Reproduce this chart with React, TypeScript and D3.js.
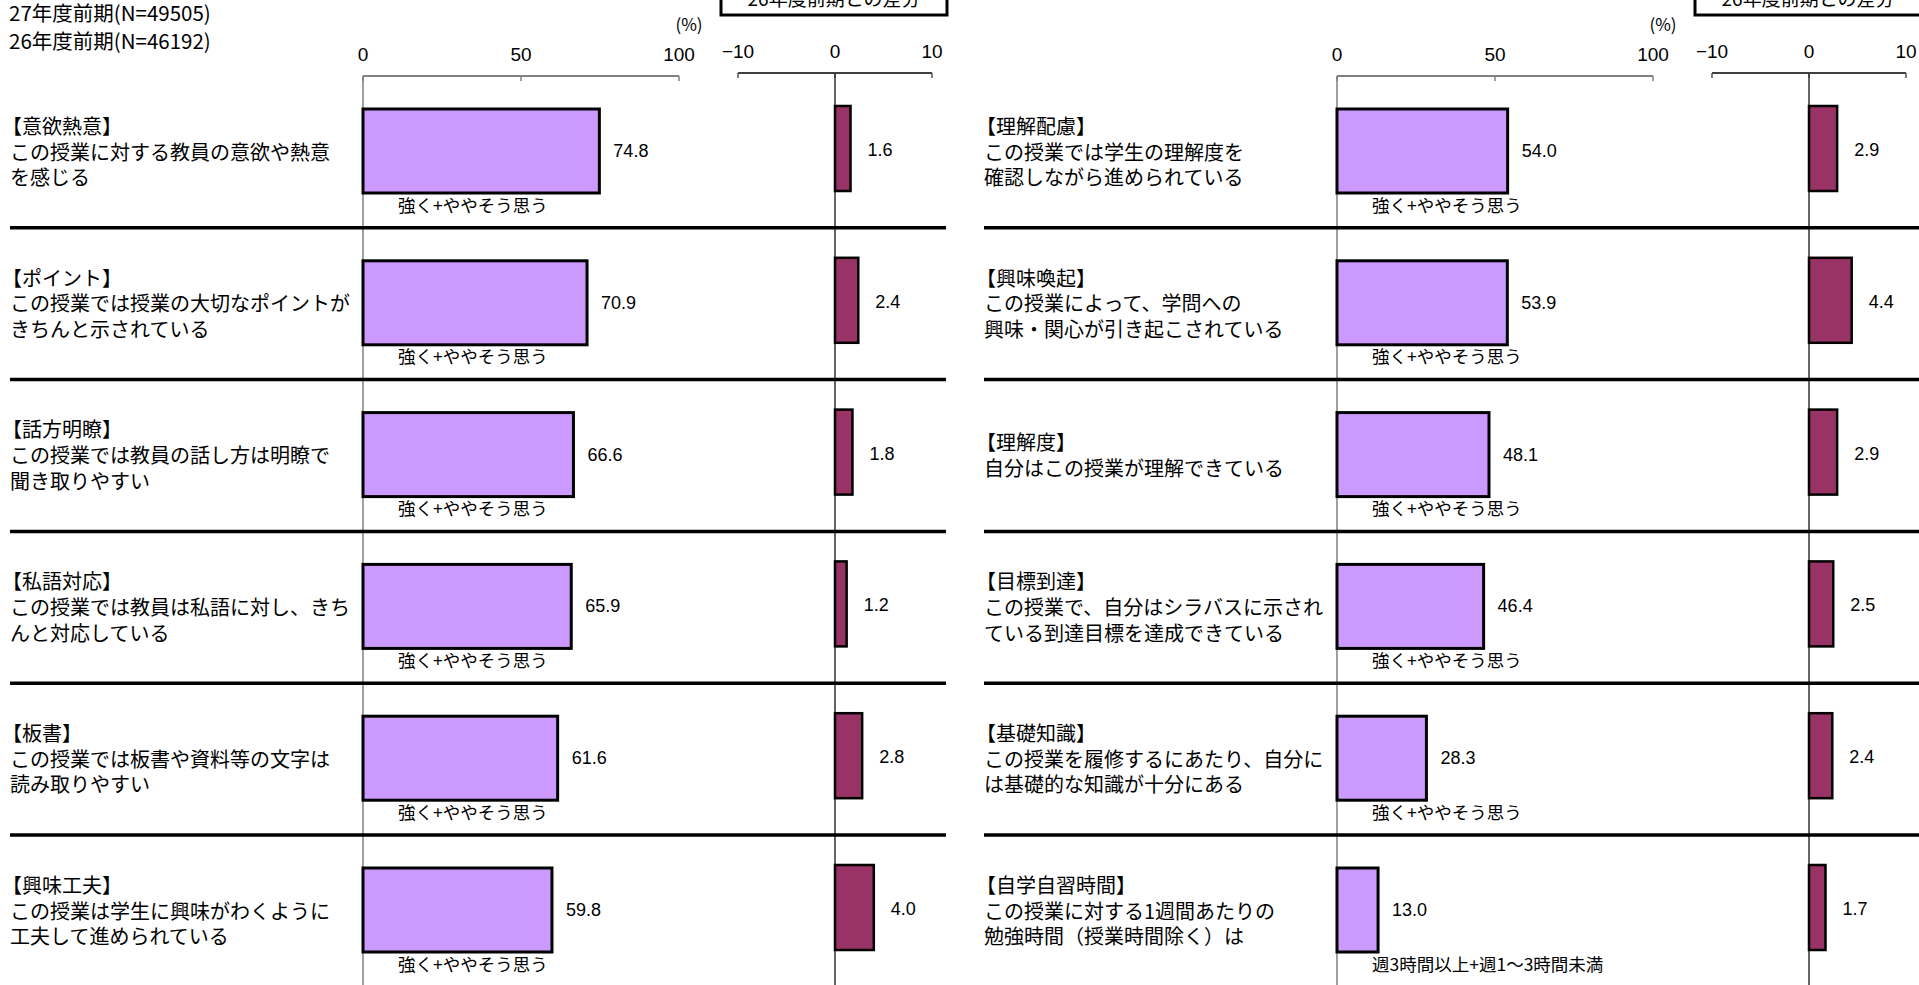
import * as d3 from "d3";
import React from "react";

// 27年度前期 vs 26年度前期
const headerLines = ["27年度前期(N=49505)", "26年度前期(N=46192)"];
const mainTicks = [0, 50, 100];
const diffTicks = [-10, 0, 10];
const diffCaption = "26年度前期との差分";

const leftTitles = ["【意欲熱意】", "【ポイント】", "【話方明瞭】", "【私語対応】", "【板書】", "【興味工夫】"];
const leftDesc = [
  ["この授業に対する教員の意欲や熱意", "を感じる"],
  ["この授業では授業の大切なポイントが", "きちんと示されている"],
  ["この授業では教員の話し方は明瞭で", "聞き取りやすい"],
  ["この授業では教員は私語に対し、きち", "んと対応している"],
  ["この授業では板書や資料等の文字は", "読み取りやすい"],
  ["この授業は学生に興味がわくように", "工夫して進められている"],
];
const leftValues = [74.8, 70.9, 66.6, 65.9, 61.6, 59.8];
const leftDiffs = [1.6, 2.4, 1.8, 1.2, 2.8, 4.0];
const leftBarLabels = ["強く+ややそう思う", "強く+ややそう思う", "強く+ややそう思う", "強く+ややそう思う", "強く+ややそう思う", "強く+ややそう思う"];

const rightTitles = ["【理解配慮】", "【興味喚起】", "【理解度】", "【目標到達】", "【基礎知識】", "【自学自習時間】"];
const rightDesc = [
  ["この授業では学生の理解度を", "確認しながら進められている"],
  ["この授業によって、学問への", "興味・関心が引き起こされている"],
  ["自分はこの授業が理解できている"],
  ["この授業で、自分はシラバスに示され", "ている到達目標を達成できている"],
  ["この授業を履修するにあたり、自分に", "は基礎的な知識が十分にある"],
  ["この授業に対する1週間あたりの", "勉強時間（授業時間除く）は"],
];
const rightValues = [54.0, 53.9, 48.1, 46.4, 28.3, 13.0];
const rightDiffs = [2.9, 4.4, 2.9, 2.5, 2.4, 1.7];
const rightBarLabels = ["強く+ややそう思う", "強く+ややそう思う", "強く+ややそう思う", "強く+ややそう思う", "強く+ややそう思う", "週3時間以上+週1～3時間未満"];

const W = 1919;
const H = 985;
const JP = "'Noto Sans CJK JP', 'Noto Sans', sans-serif";
const NUM = "'Liberation Sans', Arial, sans-serif";

const rowTop = 76;
const rowH = 151.8;
const xMain = d3.scaleLinear().domain([0, 100]).range([363, 679]);
const xDiff = d3.scaleLinear().domain([-10, 10]).range([738, 932]);

interface PanelProps {
  dx: number;
  titles: string[];
  desc: string[][];
  values: number[];
  diffs: number[];
  barLabels: string[];
}

function Panel({ dx, titles, desc, values, diffs, barLabels }: PanelProps) {
  const rows = d3.range(titles.length);
  const y = d3.scaleBand<number>().domain(rows).range([rowTop, rowTop + rowH * rows.length]);
  const mainAxisY = 76;
  const diffAxisY = 73;
  return (
    <g transform={`translate(${dx},0)`}>
      {/* legend box, cut off at the top */}
      <rect x={721} y={-12} width={226} height={27} fill="#fff" stroke="#000" strokeWidth={3} />
      <text x={834} y={6} textAnchor="middle" fontFamily={JP} fontSize={19}>{diffCaption}</text>
      <text x={689} y={23} textAnchor="middle" dominantBaseline="central" fontFamily={JP} fontSize={17}>(%)</text>

      {/* main axis */}
      {mainTicks.map((t) => (
        <text key={t} x={xMain(t)} y={54} textAnchor="middle" dominantBaseline="central" fontFamily={NUM} fontSize={19}>{t}</text>
      ))}
      <line x1={xMain(0)} x2={xMain(100)} y1={mainAxisY} y2={mainAxisY} stroke="#808080" strokeWidth={2} />
      {mainTicks.map((t) => (
        <line key={t} x1={xMain(t)} x2={xMain(t)} y1={mainAxisY} y2={mainAxisY + 5} stroke="#808080" strokeWidth={1.5} />
      ))}
      <line x1={xMain(0)} x2={xMain(0)} y1={mainAxisY} y2={H} stroke="#808080" strokeWidth={1.5} />

      {/* diff axis */}
      {diffTicks.map((t) => (
        <text key={t} x={xDiff(t)} y={51} textAnchor="middle" dominantBaseline="central" fontFamily={NUM} fontSize={19}>{t < 0 ? `−${-t}` : t}</text>
      ))}
      <line x1={xDiff(-10)} x2={xDiff(10)} y1={diffAxisY} y2={diffAxisY} stroke="#000" strokeWidth={1.5} />
      {diffTicks.map((t) => (
        <line key={t} x1={xDiff(t)} x2={xDiff(t)} y1={diffAxisY} y2={diffAxisY + 5} stroke="#555" strokeWidth={1.5} />
      ))}
      <line x1={xDiff(0)} x2={xDiff(0)} y1={diffAxisY} y2={H} stroke="#333" strokeWidth={1.5} />

      {rows.map((i) => {
        const top = y(i) as number;
        const barTop = top + 33;
        const barH = 84;
        const cy = barTop + barH / 2;
        const lines = [titles[i], ...desc[i]];
        const n = lines.length;
        return (
          <g key={i}>
            {i > 0 && <line x1={10} x2={946} y1={top} y2={top} stroke="#000" strokeWidth={3.5} />}
            {lines.map((l, k) => (
              <text
                key={k}
                x={k === 0 ? 2 : 10}
                y={cy + (k - (n - 1) / 2) * 25.7}
                dominantBaseline="central"
                fontFamily={JP}
                fontSize={20}
              >
                {l}
              </text>
            ))}
            <rect
              x={xMain(0)}
              y={barTop}
              width={xMain(values[i]) - xMain(0)}
              height={barH}
              fill="#CC99FF"
              stroke="#000"
              strokeWidth={3}
            />
            <text x={xMain(values[i]) + 14} y={cy} dominantBaseline="central" fontFamily={NUM} fontSize={18}>
              {values[i].toFixed(1)}
            </text>
            <text x={xMain(0) + 35} y={top + 128} dominantBaseline="central" fontFamily={JP} fontSize={17.5}>
              {barLabels[i]}
            </text>
            <rect
              x={xDiff(0)}
              y={top + 30}
              width={xDiff(diffs[i]) - xDiff(0)}
              height={85}
              fill="#993366"
              stroke="#000"
              strokeWidth={2.5}
            />
            <text x={xDiff(diffs[i]) + 17} y={top + 74} dominantBaseline="central" fontFamily={NUM} fontSize={18}>
              {diffs[i].toFixed(1)}
            </text>
          </g>
        );
      })}
    </g>
  );
}

export default function App() {
  return (
    <svg
      width={W}
      height={H}
      viewBox={`0 0 ${W} ${H}`}
      style={{ position: "absolute", left: 0, top: 0, display: "block", background: "#fff" }}
    >
      <rect width={W} height={H} fill="#fff" />
      {headerLines.map((h, i) => (
        <text key={i} x={9} y={12 + i * 28} dominantBaseline="central" fontFamily={JP} fontSize={20.5}>
          {h}
        </text>
      ))}
      <Panel dx={0} titles={leftTitles} desc={leftDesc} values={leftValues} diffs={leftDiffs} barLabels={leftBarLabels} />
      <Panel dx={974} titles={rightTitles} desc={rightDesc} values={rightValues} diffs={rightDiffs} barLabels={rightBarLabels} />
    </svg>
  );
}
